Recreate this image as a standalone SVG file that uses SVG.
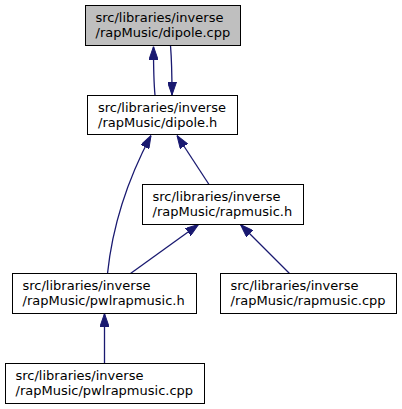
<svg xmlns="http://www.w3.org/2000/svg" width="402" height="409" viewBox="0 0 402 409">
<defs>
<style>
.node rect{fill:#ffffff;stroke:#000000;stroke-width:1}
.node.cur rect{fill:#bfbfbf}
.node text{font-family:"DejaVu Sans",sans-serif;font-size:13px;fill:#000000}
.edge path{fill:none;stroke:#191970;stroke-width:1.3}
</style>
<marker id="arr" viewBox="0 0 13 9" refX="13" refY="4.5" markerWidth="13" markerHeight="9" markerUnits="userSpaceOnUse" orient="auto">
<path d="M0,0 L13,4.5 L0,9 z" fill="#191970" stroke="#191970" stroke-width="1"/>
</marker>
</defs>
<rect width="402" height="409" fill="#ffffff"/>
<g id="edges" class="edge">
<path d="M155,95 C154,85 153.5,70 153.5,46.5" marker-end="url(#arr)"/>
<path d="M170.5,45.5 C171.5,58 172,72 172,95" marker-end="url(#arr)"/>
<path d="M107.5,273.5 C111,240 122,190 151,135.5" marker-end="url(#arr)"/>
<path d="M209,184.5 L177,135.5" marker-end="url(#arr)"/>
<path d="M130.5,273.5 L198.5,224.5" marker-end="url(#arr)"/>
<path d="M289.5,273.5 L240.5,224.5" marker-end="url(#arr)"/>
<path d="M104.5,363.5 L104.5,313.5" marker-end="url(#arr)"/>
</g>
<g id="node1" class="node cur">
<rect x="85.5" y="5.5" width="155" height="40"/>
<text x="95.5" y="21.5">src/libraries/inverse</text>
<text x="95.5" y="36.5">/rapMusic/dipole.cpp</text>
</g>
<g id="node2" class="node">
<rect x="87.5" y="95.5" width="150" height="39"/>
<text x="98" y="111.5">src/libraries/inverse</text>
<text x="98" y="126.5">/rapMusic/dipole.h</text>
</g>
<g id="node3" class="node">
<rect x="142.5" y="184.5" width="161" height="40"/>
<text x="152.5" y="200.5">src/libraries/inverse</text>
<text x="152.5" y="215.5">/rapMusic/rapmusic.h</text>
</g>
<g id="node4" class="node">
<rect x="12.5" y="273.5" width="184" height="40"/>
<text x="22.5" y="289.5">src/libraries/inverse</text>
<text x="22.5" y="304.5">/rapMusic/pwlrapmusic.h</text>
</g>
<g id="node5" class="node">
<rect x="220.5" y="273.5" width="176" height="40"/>
<text x="230.5" y="289.5">src/libraries/inverse</text>
<text x="230.5" y="304.5">/rapMusic/rapmusic.cpp</text>
</g>
<g id="node6" class="node">
<rect x="5.5" y="363.5" width="199" height="40"/>
<text x="15.5" y="379.5">src/libraries/inverse</text>
<text x="15.5" y="394.5">/rapMusic/pwlrapmusic.cpp</text>
</g>
</svg>
